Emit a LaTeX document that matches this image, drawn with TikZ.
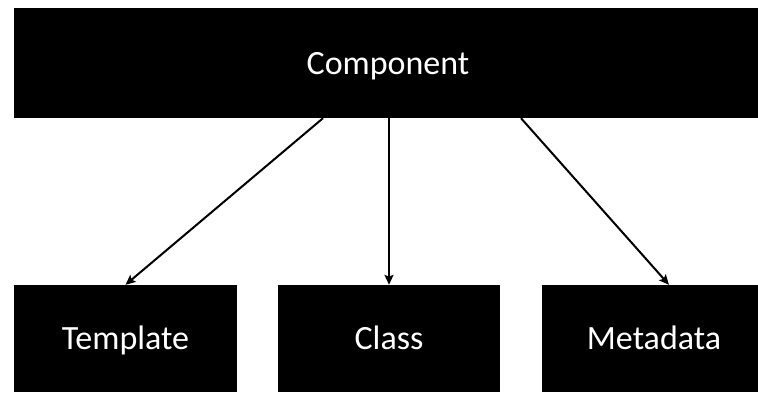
\documentclass[tikz,border=0pt]{standalone}
\usepackage{fontspec}
\setmainfont{Carlito}
\usetikzlibrary{arrows.meta}

\begin{document}
\begin{tikzpicture}[
		x=1pt,y=1pt,
		box/.style={rectangle,fill=black,text=white,inner sep=0pt,
			font=\fontsize{34}{40}\selectfont,text height=22pt,text depth=0pt},
		arr/.style={line width=2pt,-{Stealth[length=10pt,width=9pt,inset=2pt]}}
		]
		\useasboundingbox (0,0) rectangle (758,392);
		\node[box,minimum width=748,minimum height=110] (comp) at (388,329) {Component};
		\node[box,minimum width=223,minimum height=107] (templ) at (125.5,53.5) {Template};
		\node[box,minimum width=222,minimum height=107] (cls) at (389,53.5) {Class};
		\node[box,minimum width=224,minimum height=107] (meta) at (654,53.5) {Metadata};
		
		\draw[arr] ([xshift=-65]comp.south) -- (templ.north);
		\draw[arr] ([xshift=1]comp.south) -- ([xshift=0]cls.north);
		\draw[arr] ([xshift=133]comp.south) -- ([xshift=15]meta.north);
	\end{tikzpicture}
\end{document}
